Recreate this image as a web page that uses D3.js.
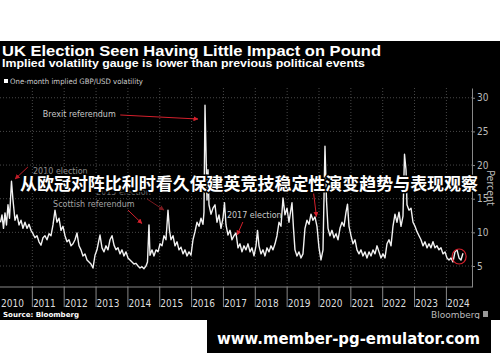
<!DOCTYPE html>
<html>
<head>
<meta charset="utf-8">
<script src="https://cdn.jsdelivr.net/npm/d3@7/dist/d3.min.js"></script>
<style>
  body { margin: 0; background: #fff; }
  svg { display: block; }
</style>
</head>
<body>
<div id="chart"></div>
<script>
// one-month implied GBP/USD volatility (percent)
var years = [
  2010.000, 2010.047, 2010.094, 2010.141, 2010.188, 2010.235, 2010.283, 2010.345, 2010.392, 2010.455,
  2010.518, 2010.581, 2010.644, 2010.706, 2010.769, 2010.832, 2010.895, 2010.958, 2011.020, 2011.083,
  2011.146, 2011.209, 2011.272, 2011.334, 2011.397, 2011.460, 2011.523, 2011.586, 2011.648, 2011.711,
  2011.774, 2011.837, 2011.900, 2011.962, 2012.025, 2012.088, 2012.151, 2012.214, 2012.276, 2012.339,
  2012.402, 2012.465, 2012.527, 2012.590, 2012.653, 2012.716, 2012.779, 2012.841, 2012.904, 2012.967,
  2013.030, 2013.093, 2013.124, 2013.187, 2013.250, 2013.312, 2013.375, 2013.438, 2013.501, 2013.564,
  2013.626, 2013.689, 2013.752, 2013.815, 2013.877, 2013.940, 2014.003, 2014.066, 2014.129, 2014.191,
  2014.254, 2014.317, 2014.380, 2014.443, 2014.505, 2014.568, 2014.615, 2014.662, 2014.694, 2014.757,
  2014.819, 2014.882, 2014.945, 2015.008, 2015.071, 2015.133, 2015.196, 2015.259, 2015.306, 2015.353,
  2015.416, 2015.479, 2015.542, 2015.604, 2015.667, 2015.730, 2015.793, 2015.856, 2015.918, 2015.981,
  2016.044, 2016.107, 2016.170, 2016.232, 2016.295, 2016.358, 2016.389, 2016.421, 2016.452, 2016.484,
  2016.515, 2016.546, 2016.609, 2016.672, 2016.735, 2016.797, 2016.860, 2016.923, 2016.986, 2017.033,
  2017.080, 2017.143, 2017.206, 2017.268, 2017.331, 2017.394, 2017.457, 2017.520, 2017.582, 2017.645,
  2017.708, 2017.771, 2017.834, 2017.896, 2017.959, 2018.022, 2018.069, 2018.116, 2018.179, 2018.242,
  2018.305, 2018.367, 2018.430, 2018.493, 2018.556, 2018.619, 2018.681, 2018.744, 2018.807, 2018.870,
  2018.932, 2018.995, 2019.058, 2019.105, 2019.152, 2019.199, 2019.246, 2019.309, 2019.372, 2019.435,
  2019.497, 2019.560, 2019.623, 2019.686, 2019.749, 2019.811, 2019.874, 2019.937, 2020.000, 2020.063,
  2020.126, 2020.188, 2020.235, 2020.283, 2020.345, 2020.408, 2020.471, 2020.534, 2020.597, 2020.659,
  2020.722, 2020.785, 2020.848, 2020.895, 2020.942, 2021.005, 2021.068, 2021.130, 2021.193, 2021.256,
  2021.319, 2021.381, 2021.444, 2021.507, 2021.570, 2021.633, 2021.695, 2021.758, 2021.821, 2021.884,
  2021.947, 2022.009, 2022.072, 2022.135, 2022.198, 2022.261, 2022.323, 2022.386, 2022.449, 2022.512,
  2022.575, 2022.637, 2022.685, 2022.732, 2022.763, 2022.826, 2022.889, 2022.951, 2023.014, 2023.077,
  2023.140, 2023.203, 2023.265, 2023.328, 2023.391, 2023.454, 2023.516, 2023.579, 2023.642, 2023.705,
  2023.768, 2023.830, 2023.893, 2023.956, 2024.019, 2024.082, 2024.144, 2024.207, 2024.270, 2024.333,
  2024.396, 2024.458, 2024.521
]
var vols = [
  11.5, 12.6, 10.6, 12.9, 11.1, 14.1, 12.1, 17.6, 14.8, 11.8,
  12.6, 11.1, 11.8, 10.6, 11.5, 10.6, 11.2, 10.3, 9.8, 9.2,
  9.5, 8.6, 8.1, 9.2, 9.5, 8.9, 9.8, 9.5, 11.1, 13.3,
  11.5, 12.1, 10.3, 10.9, 9.5, 8.6, 8.9, 8.0, 8.3, 8.9,
  9.9, 8.0, 7.4, 6.5, 6.8, 5.9, 5.6, 5.3, 4.7, 6.6,
  7.4, 8.9, 9.6, 7.7, 7.1, 8.0, 7.4, 8.9, 9.5, 8.1,
  7.4, 7.7, 6.8, 7.4, 6.5, 7.1, 6.2, 5.9, 5.6, 5.3,
  5.4, 5.0, 4.7, 4.9, 4.6, 5.0, 5.6, 11.1, 6.6, 7.4,
  6.5, 7.4, 7.1, 8.3, 8.0, 9.5, 8.9, 13.3, 10.3, 8.9,
  9.5, 8.0, 8.6, 7.4, 7.8, 6.8, 7.4, 6.5, 7.1, 6.6,
  8.9, 10.1, 11.5, 10.9, 12.1, 11.2, 13.0, 28.9, 22.2, 14.8,
  19.3, 14.1, 12.7, 13.6, 14.1, 11.5, 12.6, 10.6, 12.1, 14.4,
  11.1, 9.6, 10.3, 8.9, 9.5, 9.9, 7.7, 8.3, 7.1, 8.0,
  7.4, 8.3, 7.1, 7.7, 6.5, 8.0, 10.3, 8.0, 6.8, 7.4,
  6.5, 7.7, 7.1, 8.0, 7.4, 8.3, 9.5, 11.5, 10.9, 15.1,
  12.6, 13.6, 11.5, 13.0, 14.4, 10.6, 7.4, 6.5, 7.1, 6.2,
  6.8, 10.6, 11.8, 11.2, 12.7, 11.8, 12.3, 10.9, 7.7, 5.9,
  7.4, 22.8, 14.8, 10.6, 9.5, 10.3, 9.2, 9.8, 8.9, 10.6,
  11.5, 10.9, 13.0, 14.2, 10.9, 9.5, 8.3, 8.9, 7.4, 6.8,
  7.4, 6.5, 7.1, 6.2, 7.1, 6.5, 7.4, 6.8, 8.0, 7.1,
  6.2, 6.8, 6.2, 8.3, 8.9, 8.0, 10.9, 12.7, 11.5, 13.0,
  10.9, 12.4, 21.6, 19.3, 14.1, 13.3, 13.6, 11.5, 10.9, 10.1,
  9.5, 8.9, 8.0, 8.6, 7.7, 8.3, 7.7, 8.6, 7.7, 8.0,
  7.4, 7.7, 6.8, 7.1, 6.2, 5.9, 6.2, 5.6, 7.1, 7.4,
  6.2, 5.9, 6.9
]
var yearLabels = ['2010', '2011', '2012', '2013', '2014', '2015', '2016', '2017',
  '2018', '2019', '2020', '2021', '2022', '2023', '2024']
var yTicks = [5, 10, 15, 20, 25, 30]

// event notes, placed in data units: label spot, arrow tail and arrow head
var noteTexts = ['Brexit referendum', '2010 election', '2015 election', 'Scottish referendum', '2017 election']
var noteAt = [[2011.33, 27.07], [2011.02, 18.67], [2013.00, 15.55], [2011.65, 13.84], [2017.11, 12.13]]
var arrowFrom = [[2013.76, 27.44], [2010.86, 19.71], [2014.60, 14.96], [2014.00, 13.32], [2017.61, 11.54], [2019.78, 17.78]]
var arrowTo = [[2016.20, 26.84], [2010.46, 17.93], [2015.13, 13.32], [2014.44, 11.32], [2017.43, 9.61], [2019.92, 12.36]]
var latest = [2024.40, 6.41]

var width = 500
var height = 362

var svg = d3.select('#chart').append('svg')
  .attr('width', width)
  .attr('height', height)

// black chart panel
svg.append('rect')
  .attr('x', 0).attr('y', 41)
  .attr('width', width).attr('height', 279)
  .attr('fill', '#000')

var x = d3.scaleLinear().domain([2010, 2024.804]).range([0.5, 472])
var y = d3.scaleLinear().domain([1.88, 31.45]).range([287, 88])

var narrow = '"Liberation Sans Narrow", "DejaVu Sans Condensed", sans-serif'

// titles
svg.append('text')
  .attr('x', 2).attr('y', 56)
  .attr('fill', '#fff')
  .attr('font-family', '"Liberation Sans", Arial, sans-serif')
  .attr('font-weight', 'bold')
  .attr('font-size', 15.5)
  .attr('textLength', 379)
  .attr('lengthAdjust', 'spacingAndGlyphs')
  .text('UK Election Seen Having Little Impact on Pound')

svg.append('text')
  .attr('x', 2).attr('y', 67)
  .attr('fill', '#fff')
  .attr('font-family', '"Liberation Sans", Arial, sans-serif')
  .attr('font-weight', 'bold')
  .attr('font-size', 10)
  .attr('textLength', 363)
  .attr('lengthAdjust', 'spacingAndGlyphs')
  .text('Implied volatility gauge is lower than previous political events')

// legend
svg.append('rect')
  .attr('x', 4).attr('y', 79)
  .attr('width', 4).attr('height', 4)
  .attr('fill', '#fff')

svg.append('text')
  .attr('x', 10).attr('y', 84)
  .attr('fill', '#ccc')
  .attr('font-family', narrow)
  .attr('font-size', 7.5)
  .attr('textLength', 133)
  .attr('lengthAdjust', 'spacingAndGlyphs')
  .text('One-month implied GBP/USD volatility')

// dotted grid
var yearStarts = d3.range(2011, 2025)

svg.append('g').selectAll('line')
  .data(yearStarts)
  .enter().append('line')
  .attr('x1', function (d) { return x(d) })
  .attr('x2', function (d) { return x(d) })
  .attr('y1', y.range()[1])
  .attr('y2', y.range()[0])
  .attr('stroke', '#5a5a5a')
  .attr('stroke-width', 0.8)
  .attr('stroke-dasharray', '1,2')

svg.append('g').selectAll('line')
  .data(yTicks)
  .enter().append('line')
  .attr('x1', 0)
  .attr('x2', x.range()[1])
  .attr('y1', function (d) { return y(d) })
  .attr('y2', function (d) { return y(d) })
  .attr('stroke', '#5a5a5a')
  .attr('stroke-width', 0.8)
  .attr('stroke-dasharray', '1,2')

// y axis on the right
var yAxis = svg.append('g')
  .attr('transform', 'translate(' + x.range()[1] + ',0)')
  .call(d3.axisRight(y).tickValues(yTicks).tickSizeInner(3).tickSizeOuter(0).tickPadding(2))

yAxis.select('.domain').attr('stroke', '#888')
yAxis.selectAll('.tick line').attr('stroke', '#888')
yAxis.selectAll('.tick text')
  .attr('fill', '#bbb')
  .attr('font-family', narrow)
  .attr('font-size', 10)

svg.append('text')
  .attr('transform', 'translate(487,188) rotate(90)')
  .attr('text-anchor', 'middle')
  .attr('fill', '#bbb')
  .attr('font-family', narrow)
  .attr('font-size', 10.5)
  .text('Percent')

// x axis: long separators at year starts, labels in the middle of each year
svg.append('line')
  .attr('x1', 0).attr('x2', x.range()[1])
  .attr('y1', y.range()[0]).attr('y2', y.range()[0])
  .attr('stroke', '#888')

svg.append('g').selectAll('line')
  .data(yearStarts)
  .enter().append('line')
  .attr('x1', function (d) { return x(d) })
  .attr('x2', function (d) { return x(d) })
  .attr('y1', y.range()[0])
  .attr('y2', y.range()[0] + 20)
  .attr('stroke', '#888')

svg.append('g').selectAll('text')
  .data(yearLabels)
  .enter().append('text')
  .attr('x', function (d) { return Math.min(x(+d + 0.5), x(+d) + 13) - 1 })
  .attr('y', 307)
  .attr('text-anchor', 'middle')
  .attr('fill', '#ddd')
  .attr('font-family', narrow)
  .attr('font-size', 10)
  .text(function (d) { return d })

// the series
var line = d3.line()
  .x(function (d, i) { return x(years[i]) })
  .y(function (d) { return y(d) })

svg.append('path')
  .datum(vols)
  .attr('d', line)
  .attr('fill', 'none')
  .attr('stroke', '#f2f2f2')
  .attr('stroke-width', 1.4)
  .attr('stroke-linejoin', 'round')

// annotations
var defs = svg.append('defs')
defs.append('marker')
  .attr('id', 'head')
  .attr('viewBox', '0 0 10 10')
  .attr('refX', 9).attr('refY', 5)
  .attr('markerWidth', 5).attr('markerHeight', 5)
  .attr('orient', 'auto')
  .append('path')
  .attr('d', 'M0,0L10,5L0,10Z')
  .attr('fill', 'context-stroke')

var noteColors = ['#c8c8c8', '#8a8a8a', '#6a6a6a', '#a5a5a5', '#c8c8c8']
var arrowColors = ['#d4202c', '#c01c28', '#7a1a1f', '#d4202c', '#d4202c', '#d4202c']

svg.append('g').selectAll('text')
  .data(noteTexts)
  .enter().append('text')
  .attr('x', function (d, i) { return x(noteAt[i][0]) })
  .attr('y', function (d, i) { return y(noteAt[i][1]) })
  .attr('fill', function (d, i) { return noteColors[i] })
  .attr('font-family', '"DejaVu Sans", sans-serif')
  .attr('font-size', 8)
  .text(function (d) { return d })

svg.append('g').selectAll('line')
  .data(arrowFrom)
  .enter().append('line')
  .attr('x1', function (d) { return x(d[0]) })
  .attr('y1', function (d) { return y(d[1]) })
  .attr('x2', function (d, i) { return x(arrowTo[i][0]) })
  .attr('y2', function (d, i) { return y(arrowTo[i][1]) })
  .attr('stroke', function (d, i) { return arrowColors[i] })
  .attr('stroke-width', 1)
  .attr('marker-end', 'url(#head)')

svg.append('ellipse')
  .attr('cx', x(latest[0]))
  .attr('cy', y(latest[1]))
  .attr('rx', 7).attr('ry', 7.5)
  .attr('fill', 'none')
  .attr('stroke', '#d4202c')
  .attr('stroke-width', 1.2)

// footer
svg.append('text')
  .attr('x', 3).attr('y', 317)
  .attr('fill', '#fff')
  .attr('font-family', '"DejaVu Sans", sans-serif')
  .attr('font-weight', 'bold')
  .attr('font-size', 7)
  .attr('textLength', 76)
  .attr('lengthAdjust', 'spacingAndGlyphs')
  .text('Source: Bloomberg')

svg.append('text')
  .attr('x', 480).attr('y', 318)
  .attr('text-anchor', 'end')
  .attr('fill', '#bbb')
  .attr('font-family', '"DejaVu Sans", sans-serif')
  .attr('font-size', 9)
  .text('Bloomberg')

svg.append('rect')
  .attr('x', 483).attr('y', 311)
  .attr('width', 5).attr('height', 6)
  .attr('fill', '#999')

// overlaid caption
svg.append('text')
  .attr('x', 20).attr('y', 190)
  .attr('fill', '#fff')
  .attr('stroke', '#000')
  .attr('stroke-width', 3)
  .attr('paint-order', 'stroke')
  .attr('font-family', '"Noto Sans CJK SC", sans-serif')
  .attr('font-weight', 'bold')
  .attr('font-size', 17)
  .attr('textLength', 458)
  .attr('lengthAdjust', 'spacingAndGlyphs')
  .text('从欧冠对阵比利时看久保建英竞技稳定性演变趋势与表现观察')

// watermark box
svg.append('rect')
  .attr('x', 207).attr('y', 319)
  .attr('width', 284).attr('height', 34)
  .attr('fill', '#000')

svg.append('text')
  .attr('x', 217).attr('y', 344)
  .attr('fill', '#fff')
  .attr('font-family', '"DejaVu Sans", sans-serif')
  .attr('font-weight', 'bold')
  .attr('font-size', 16)
  .attr('textLength', 263)
  .attr('lengthAdjust', 'spacingAndGlyphs')
  .text('www.member-pg-emulator.com')
</script>
</body>
</html>
